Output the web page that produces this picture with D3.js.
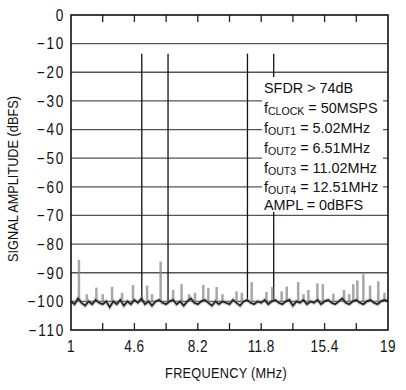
<!DOCTYPE html>
<html>
<head>
<meta charset="utf-8">
<script src="https://cdn.jsdelivr.net/npm/d3@7"></script>
<style>
  body { margin: 0; background: #fff; }
  svg text { font-family: "Liberation Sans", Arial, sans-serif; fill: #111; }
</style>
</head>
<body>
<div id="chart"></div>
<script>
// tonos de salida
const toneFreq = [5.02, 6.51, 11.02, 12.51];
const toneLevel = [-13.5, -13.5, -13.5, -13.5];

// piso de ruido, cada 0.2 MHz desde 1 MHz
const noiseStart = 1, noiseStep = 0.2;
const noiseLevel = [
  -100, -101, -99, -100.5, -101.5, -100, -101, -99.5, -100.5, -101,
  -100, -102, -100, -101, -99.5, -101.5, -100, -101, -99.5, -100.5,
  -99, -101, -100, -101.5, -100, -99.5, -100.5, -101, -100, -99.5,
  -101, -100, -101.5, -100, -99, -100.5, -101, -100, -99.5, -100.5,
  -101.5, -100, -101, -100, -100.5, -101, -99.5, -100.5, -101.5, -100,
  -99.5, -100.5, -101, -100, -100.5, -99.5, -101, -100, -99.5, -100.5,
  -101, -100, -99.5, -101.5, -100, -100.5, -99.5, -101, -100, -100.5,
  -99.5, -101, -100, -99.5, -100.5, -101, -100, -99, -100.5, -101,
  -100, -99.5, -100.5, -101, -100, -99.5, -100.5, -101, -100, -99.5, -100
];

// espurias
const spurFreq = [1.45, 1.9, 2.44, 2.8, 3.33, 3.9, 4.52, 5.32, 5.6, 6.09, 6.8, 7.28, 7.7, 8.04, 8.51, 8.8, 9.27, 9.6, 10.4, 10.7, 11.26, 12.1, 12.43, 12.96, 13.25, 13.9, 14.2, 14.48, 14.99, 15.3, 15.9, 16.5, 16.8, 17.03, 17.26, 17.6, 17.98, 18.45, 18.8];
const spurLevel = [-85.5, -97.5, -95.2, -97.5, -94.9, -97, -94.3, -94.5, -97.5, -86.1, -96, -94, -97.5, -97, -94.3, -95.3, -95, -97.5, -96.5, -97, -93.3, -96.7, -95, -96.5, -94.8, -93.3, -97.5, -96, -93.7, -94, -97.3, -96, -97.5, -94, -92.7, -90.5, -94.5, -93, -97];

const xTicks = [1, 2.8, 4.6, 6.4, 8.2, 10, 11.8, 13.6, 15.4, 17.2, 19];
const xLabels = [1, 4.6, 8.2, 11.8, 15.4, 19];
const yTicks = [0, -10, -20, -30, -40, -50, -60, -70, -80, -90, -100, -110];

const notes = [
  { t: "SFDR > 74dB" },
  { t: "f", sub: "CLOCK", rest: " = 50MSPS" },
  { t: "f", sub: "OUT1", rest: " = 5.02MHz" },
  { t: "f", sub: "OUT2", rest: " = 6.51MHz" },
  { t: "f", sub: "OUT3", rest: " = 11.02MHz" },
  { t: "f", sub: "OUT4", rest: " = 12.51MHz" },
  { t: "AMPL = 0dBFS" }
];
const noteY = [93, 113, 133, 153, 173, 192, 210];

const width = 406, height = 390;
const margin = { top: 15, right: 18, bottom: 60, left: 71 };
const svg = d3.select("#chart").append("svg").attr("width", width).attr("height", height);

const x = d3.scaleLinear().domain([1, 19]).range([margin.left, width - margin.right]);
const y = d3.scaleLinear().domain([-110, 0]).range([height - margin.bottom, margin.top]);

// rejilla horizontal
svg.append("g").selectAll("line").data(yTicks.slice(1, -1)).join("line")
  .attr("x1", x(1)).attr("x2", x(19)).attr("y1", (d) => y(d)).attr("y2", (d) => y(d))
  .attr("stroke", "#555").attr("stroke-width", 1.3);

// marcas superiores e inferiores
const inner = xTicks.slice(1, -1);
svg.append("g").selectAll("line").data(inner).join("line")
  .attr("x1", (d) => x(d)).attr("x2", (d) => x(d)).attr("y1", y(0)).attr("y2", y(0) + 7)
  .attr("stroke", "#222").attr("stroke-width", 1.3);
svg.append("g").selectAll("line").data(inner).join("line")
  .attr("x1", (d) => x(d)).attr("x2", (d) => x(d)).attr("y1", y(-110)).attr("y2", y(-110) - 7)
  .attr("stroke", "#222").attr("stroke-width", 1.3);

// tonos
svg.append("g").selectAll("line").data(toneFreq).join("line")
  .attr("x1", (d) => x(d)).attr("x2", (d) => x(d))
  .attr("y1", (d, i) => y(toneLevel[i])).attr("y2", y(-100))
  .attr("stroke", "#111").attr("stroke-width", 1.3);

// espurias
svg.append("g").selectAll("line").data(spurFreq).join("line")
  .attr("x1", (d) => x(d)).attr("x2", (d) => x(d))
  .attr("y1", (d, i) => y(spurLevel[i])).attr("y2", y(-100))
  .attr("stroke", "#8a8a8a").attr("stroke-width", 2.5).attr("opacity", 0.75);

// ruido
const noise = noiseLevel.map((v, i) => ({ f: noiseStart + i * noiseStep, v }));
const line = d3.line().x((d) => x(d.f)).y((d) => y(d.v));
svg.append("path").datum(noise).attr("fill", "none").attr("stroke", "#999").attr("stroke-width", 4).attr("opacity", 0.5).attr("d", line);
svg.append("path").datum(noise).attr("fill", "none").attr("stroke", "#222").attr("stroke-width", 1.7).attr("d", line);

// cuadro de notas
svg.append("rect").attr("x", 262).attr("y", 77).attr("width", 121).attr("height", 135).attr("fill", "#fff");
const nt = svg.append("g").attr("font-size", 15);
notes.forEach((n, i) => {
  const t = nt.append("text").attr("transform", `translate(264, ${noteY[i]}) scale(0.96, 1)`);
  t.append("tspan").text(n.t);
  if (n.sub) {
    t.append("tspan").attr("font-size", 11).attr("dy", 2).text(n.sub);
    t.append("tspan").attr("dy", -2).text(n.rest);
  }
});

// marco
svg.append("rect").attr("x", x(1)).attr("y", y(0)).attr("width", x(19) - x(1)).attr("height", y(-110) - y(0))
  .attr("fill", "none").attr("stroke", "#111").attr("stroke-width", 1.6);

// etiquetas eje y
svg.append("g").selectAll("text").data(yTicks).join("text")
  .attr("transform", (d) => `translate(${x(1) - 6}, ${y(d)}) scale(0.85, 1)`)
  .attr("dy", "0.36em").attr("text-anchor", "end")
  .attr("font-size", 16).attr("letter-spacing", 2)
  .text((d) => (d < 0 ? "\u2212" + Math.abs(d) : d));

// etiquetas eje x
svg.append("g").selectAll("text").data(xLabels).join("text")
  .attr("transform", (d) => `translate(${x(d)}, ${y(-110) + 22}) scale(0.85, 1)`)
  .attr("text-anchor", "middle").attr("font-size", 16).attr("letter-spacing", 0.5)
  .text((d) => d);

svg.append("text").attr("transform", `translate(226, 378) scale(0.85, 1)`).attr("text-anchor", "middle")
  .attr("font-size", 15).attr("letter-spacing", 0.3).text("FREQUENCY (MHz)");

svg.append("text").attr("transform", `translate(18, 179) rotate(-90) scale(0.85, 1)`)
  .attr("text-anchor", "middle").attr("font-size", 15)
  .text("SIGNAL AMPLITUDE (dBFS)");
</script>
</body>
</html>
